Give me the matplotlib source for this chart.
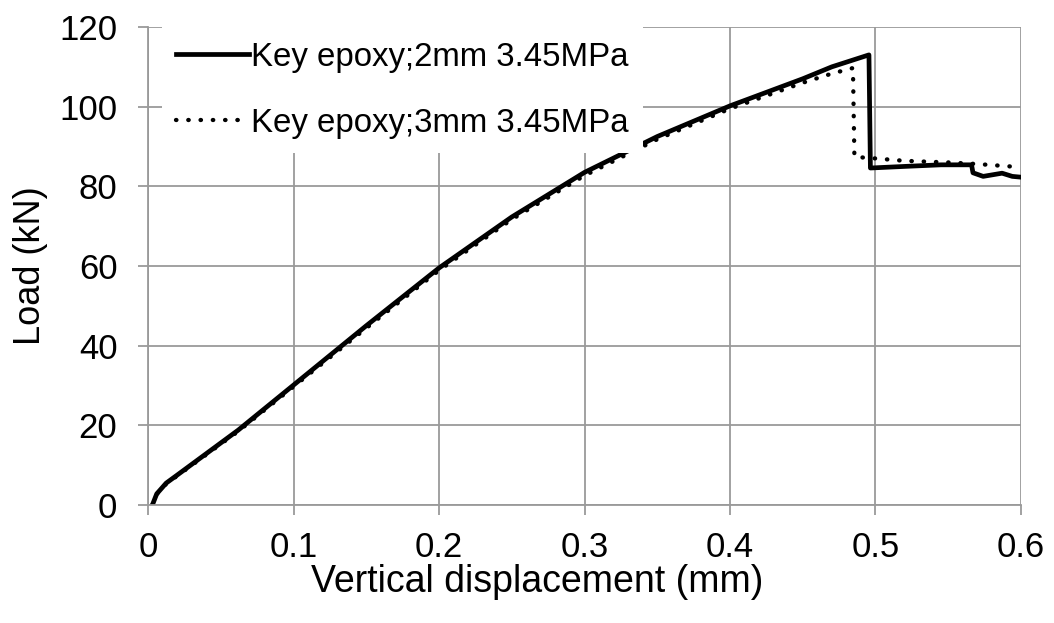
import matplotlib.pyplot as plt

plt.rcParams['font.family'] = ['Liberation Sans', 'DejaVu Sans']

# Key epoxy; 2mm 3.45MPa (solid)
disp_2mm = [0.003, 0.006, 0.0125, 0.02, 0.062, 0.1, 0.15, 0.2, 0.25, 0.3, 0.35,
            0.4, 0.45, 0.47, 0.4955, 0.4965, 0.52, 0.545, 0.566, 0.567, 0.574,
            0.587, 0.594, 0.6]
load_2mm = [0, 2.8, 5.5, 7.5, 18.8, 30.1, 45.0, 59.5, 72.3, 83.5, 92.5,
            100.2, 107.0, 110.0, 113.0, 84.6, 85.0, 85.4, 85.4, 83.4, 82.5,
            83.3, 82.5, 82.3]

# Key epoxy; 3mm 3.45MPa (dotted)
disp_3mm = [0.003, 0.006, 0.0125, 0.02, 0.062, 0.1, 0.15, 0.2, 0.25, 0.3, 0.35,
            0.4, 0.45, 0.47, 0.4845, 0.4855, 0.5, 0.52, 0.55, 0.57, 0.6]
load_3mm = [0, 2.7, 5.3, 7.3, 18.5, 29.7, 44.4, 58.9, 71.7, 82.7, 91.8,
            99.5, 106.0, 108.3, 109.7, 87.4, 87.0, 86.4, 86.0, 85.6, 84.8]

labels = ["Key epoxy;2mm 3.45MPa", "Key epoxy;3mm 3.45MPa"]
x_ticks = [0, 0.1, 0.2, 0.3, 0.4, 0.5, 0.6]
x_ticklabels = ['0', '0.1', '0.2', '0.3', '0.4', '0.5', '0.6']


def main():
    fig = plt.figure(figsize=(10.54, 6.23), dpi=100)
    ax = fig.add_axes([148 / 1054, 1 - 505 / 623, 873 / 1054, 478 / 623])

    ax.plot(disp_2mm, load_2mm, color='black', lw=3.4, label=labels[0],
            solid_joinstyle='round', zorder=3)
    ax.plot(disp_3mm, load_3mm, color='black', lw=3.1, linestyle=(0, (0.1, 2.75)),
            dash_capstyle='round', label=labels[1], zorder=2)

    ax.set_xlim(0, 0.6)
    ax.set_ylim(0, 120)
    ax.set_xticks(x_ticks)
    ax.set_xticklabels(x_ticklabels)
    ax.set_yticks(range(0, 121, 20))
    ax.grid(True, color='#9a9a9a', lw=1.3)
    ax.set_axisbelow(True)
    for s in ['top', 'right']:
        ax.spines[s].set_visible(False)
    for s in ['left', 'bottom']:
        ax.spines[s].set_color('#9a9a9a')
        ax.spines[s].set_linewidth(1.3)
        ax.spines[s].set_zorder(6)
    ax.tick_params(axis='both', colors='#9a9a9a', length=7, width=1.3,
                   labelsize=25, labelcolor='black')
    ax.tick_params(axis='y', pad=15)
    ax.tick_params(axis='x', pad=12)

    ax.set_xlabel("Vertical displacement (mm)", fontsize=27, labelpad=0,
                  x=(537 - 148) / 873)
    ax.set_ylabel("Load (kN)", fontsize=26, labelpad=8)

    leg = ax.legend(loc='upper left', bbox_to_anchor=(0.0155, 1.0), fontsize=23.8,
                    frameon=True, framealpha=1, edgecolor='white',
                    facecolor='white', fancybox=False,
                    handlelength=2.2, handletextpad=0.05, labelspacing=1.05,
                    borderpad=0.45, borderaxespad=0.0)
    leg.get_frame().set_linewidth(0)
    leg.set_zorder(5)

    fig.savefig("out.png", dpi=100)


if __name__ == '__main__':
    main()
